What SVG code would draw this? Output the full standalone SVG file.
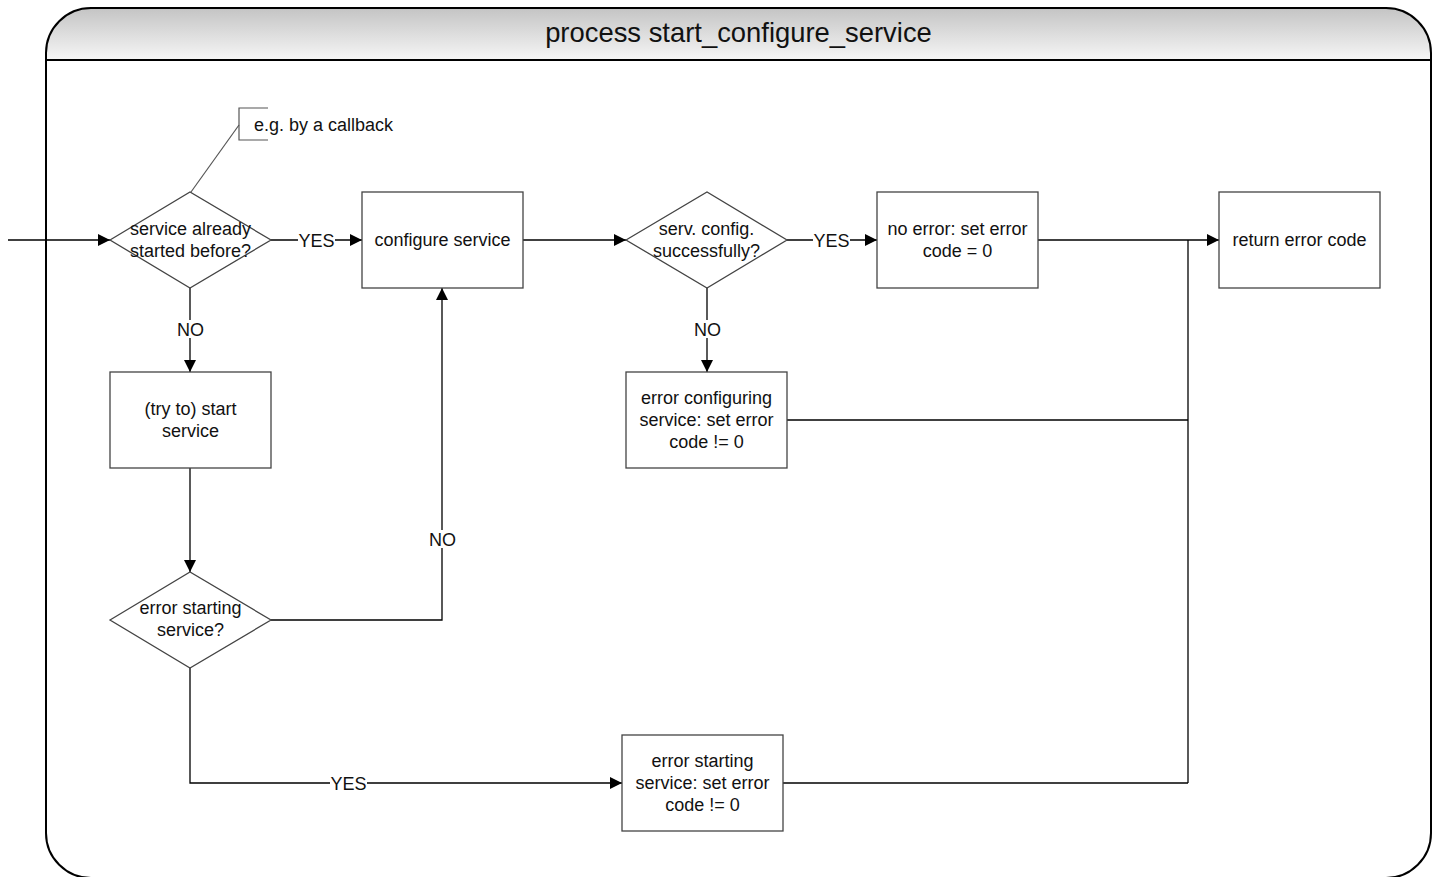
<svg xmlns="http://www.w3.org/2000/svg" width="1439" height="877" viewBox="0 0 1439 877">
  <defs>
    <linearGradient id="hdr" x1="0" y1="0" x2="0" y2="1">
      <stop offset="0" stop-color="#c4c4c4"/>
      <stop offset="1" stop-color="#f6f6f6"/>
    </linearGradient>
    <marker id="arrow" viewBox="0 0 12 12" refX="12" refY="6" markerWidth="12" markerHeight="12" markerUnits="userSpaceOnUse" orient="auto">
      <path d="M0,0 L12,6 L0,12 Z" fill="#000"/>
    </marker>
  </defs>
  <style>
    .shape { fill: #fff; stroke: #444; stroke-width: 1.3; }
    .txt { font-family: "Liberation Sans", Arial, sans-serif; font-size: 18px; fill: #111; text-anchor: middle; }
    .title { font-family: "Liberation Sans", Arial, sans-serif; font-size: 27.4px; fill: #111; text-anchor: middle; }
    .conn { fill: none; stroke: #000; stroke-width: 1.3; }
    .lbl-bg { fill: #fff; }
    .note { fill: none; stroke: #555; stroke-width: 1.2; }
  </style>

  <!-- process frame -->
  <g id="frame">
    <path d="M46,60 L46,53 A45,45 0 0 1 91,8 L1386,8 A45,45 0 0 1 1431,53 L1431,60 Z" fill="url(#hdr)"/>
    <path d="M46,60 L46,53 A45,45 0 0 1 91,8 L1386,8 A45,45 0 0 1 1431,53 L1431,833 A45,45 0 0 1 1386,878 L91,878 A45,45 0 0 1 46,833 Z" fill="none" stroke="#000" stroke-width="2"/>
    <line x1="46" y1="60" x2="1431" y2="60" stroke="#000" stroke-width="2"/>
    <text class="title" x="738.5" y="42">process start_configure_service</text>
  </g>

  <!-- connectors -->
  <g id="connectors">
    <line class="conn" x1="8" y1="240" x2="110" y2="240" marker-end="url(#arrow)"/>
    <line class="conn" x1="271" y1="240" x2="362" y2="240" marker-end="url(#arrow)"/>
    <line class="conn" x1="523" y1="240" x2="626" y2="240" marker-end="url(#arrow)"/>
    <line class="conn" x1="787" y1="240" x2="877" y2="240" marker-end="url(#arrow)"/>
    <line class="conn" x1="1038" y1="240" x2="1219" y2="240" marker-end="url(#arrow)"/>
    <line class="conn" x1="1188" y1="240" x2="1188" y2="783"/>
    <line class="conn" x1="787" y1="420" x2="1188" y2="420"/>
    <line class="conn" x1="783" y1="783" x2="1188" y2="783"/>
    <line class="conn" x1="190" y1="288" x2="190" y2="372" marker-end="url(#arrow)"/>
    <line class="conn" x1="707" y1="288" x2="707" y2="372" marker-end="url(#arrow)"/>
    <line class="conn" x1="190" y1="468" x2="190" y2="572" marker-end="url(#arrow)"/>
    <polyline class="conn" points="271,620 442,620 442,288" marker-end="url(#arrow)"/>
    <polyline class="conn" points="190,668 190,783 622,783" marker-end="url(#arrow)"/>
    <line class="note" x1="191" y1="192" x2="239" y2="125"/>

    <!-- connector labels -->
    <rect class="lbl-bg" x="298" y="231" width="37" height="18"/>
    <text class="txt" x="316.5" y="246.5">YES</text>
    <rect class="lbl-bg" x="813" y="231" width="37" height="18"/>
    <text class="txt" x="831.5" y="246.5">YES</text>
    <rect class="lbl-bg" x="177" y="320" width="27" height="18"/>
    <text class="txt" x="190.5" y="335.5">NO</text>
    <rect class="lbl-bg" x="694" y="320" width="27" height="18"/>
    <text class="txt" x="707.5" y="335.5">NO</text>
    <rect class="lbl-bg" x="429" y="530" width="27" height="18"/>
    <text class="txt" x="442.5" y="545.5">NO</text>
    <rect class="lbl-bg" x="330" y="774" width="37" height="18"/>
    <text class="txt" x="348.5" y="789.5">YES</text>
  </g>

  <g id="note-callback">
    <path class="note" d="M268,108 L239,108 L239,140 L268,140"/>
    <text class="txt" x="254" y="130.5" style="text-anchor:start">e.g. by a callback</text>
  </g>

  <g id="dec-already-started">
    <polygon class="shape" points="110,240 190,192 271,240 190,288"/>
    <text class="txt" x="190.5" y="235">service already</text>
    <text class="txt" x="190.5" y="257">started before?</text>
  </g>

  <g id="configure-service">
    <rect class="shape" x="362" y="192" width="161" height="96"/>
    <text class="txt" x="442.5" y="246">configure service</text>
  </g>

  <g id="dec-config-ok">
    <polygon class="shape" points="626,240 707,192 787,240 707,288"/>
    <text class="txt" x="706.5" y="235">serv. config.</text>
    <text class="txt" x="706.5" y="257">successfully?</text>
  </g>

  <g id="no-error">
    <rect class="shape" x="877" y="192" width="161" height="96"/>
    <text class="txt" x="957.5" y="235">no error: set error</text>
    <text class="txt" x="957.5" y="257">code = 0</text>
  </g>

  <g id="return-code">
    <rect class="shape" x="1219" y="192" width="161" height="96"/>
    <text class="txt" x="1299.5" y="246">return error code</text>
  </g>

  <g id="start-service">
    <rect class="shape" x="110" y="372" width="161" height="96"/>
    <text class="txt" x="190.5" y="415">(try to) start</text>
    <text class="txt" x="190.5" y="437">service</text>
  </g>

  <g id="error-configuring">
    <rect class="shape" x="626" y="372" width="161" height="96"/>
    <text class="txt" x="706.5" y="404">error configuring</text>
    <text class="txt" x="706.5" y="426">service: set error</text>
    <text class="txt" x="706.5" y="448">code != 0</text>
  </g>

  <g id="dec-start-error">
    <polygon class="shape" points="110,620 190,572 271,620 190,668"/>
    <text class="txt" x="190.5" y="614">error starting</text>
    <text class="txt" x="190.5" y="636">service?</text>
  </g>

  <g id="error-starting">
    <rect class="shape" x="622" y="735" width="161" height="96"/>
    <text class="txt" x="702.5" y="767">error starting</text>
    <text class="txt" x="702.5" y="789">service: set error</text>
    <text class="txt" x="702.5" y="811">code != 0</text>
  </g>
</svg>
